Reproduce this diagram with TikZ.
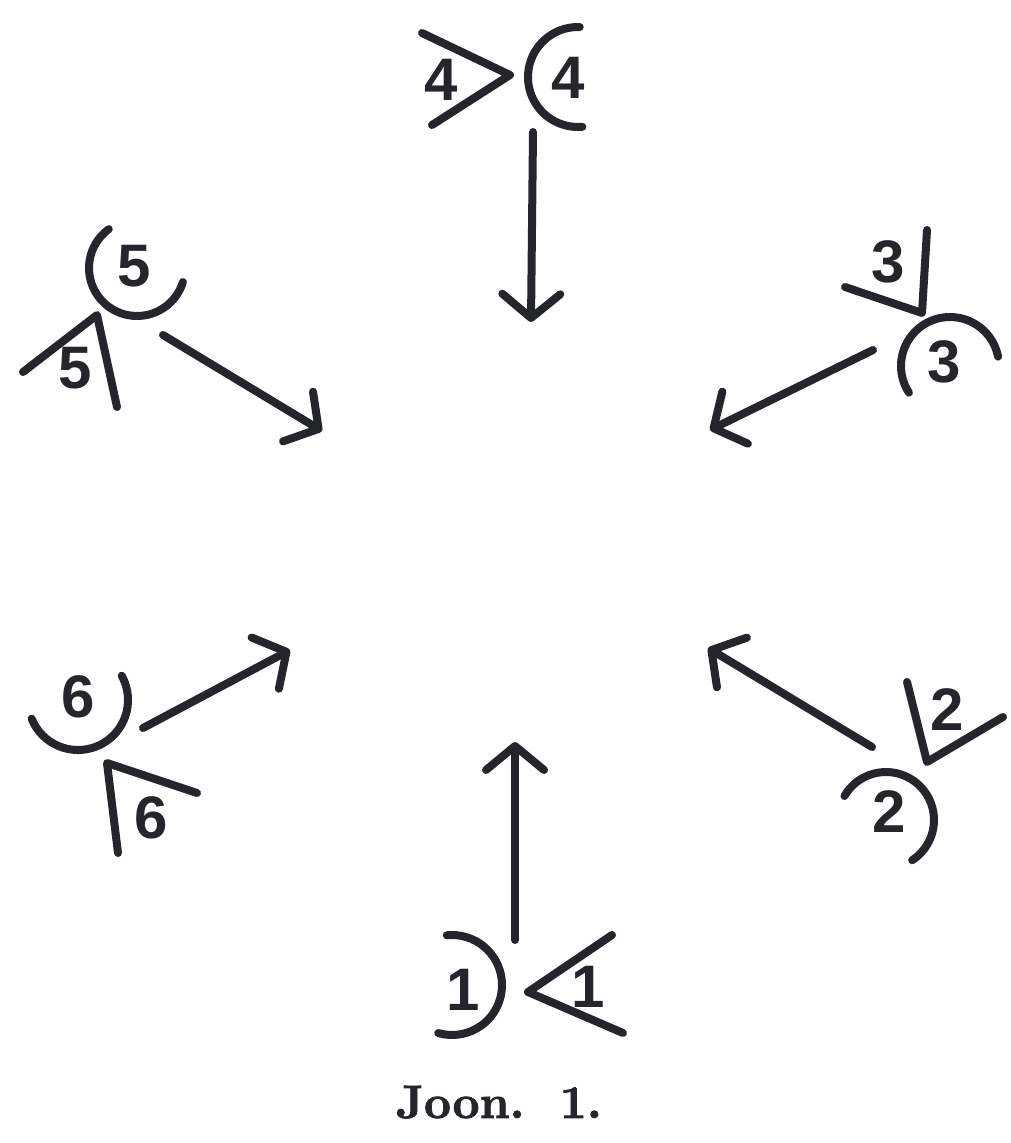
\documentclass[tikz,border=0pt]{standalone}
\usepackage{fontspec}
\newfontfamily\digitfont{Liberation Sans}
\newfontfamily\capfont{lmroman10-bold.otf}[FakeBold=1.6]
\usetikzlibrary{arrows.meta}
\definecolor{ink}{RGB}{36,38,44}
\begin{document}
\begin{tikzpicture}[x=1pt,y=-1pt,
  stroke/.style={draw=ink,line width=8pt,line cap=round,line join=round},
  arrowline/.style={stroke,-{Straight Barb[length=24pt,width=58pt,round]}},
  digit/.style={text=ink,font=\digitfont\bfseries\fontsize{60}{60}\selectfont,inner sep=0pt},
  captiontext/.style={text=ink,font=\capfont\fontsize{47}{47}\selectfont,inner sep=0pt,anchor=base}]
\fill[white] (0,0) rectangle (1011,1143);
\useasboundingbox (0,0) rectangle (1011,1143);

% arc centres
\coordinate (c4) at (578,77);
\coordinate (c5) at (137,268);
\coordinate (c3) at (950,366);
\coordinate (c6) at (78,700);
\coordinate (c2) at (886,820);
\coordinate (c1) at (452,985);

% arcs
\draw[stroke] (c4) ++(272:50) arc[start angle=272,end angle=85,radius=50];
\draw[stroke] (c5) ++(234:48) arc[start angle=234,end angle=17,radius=48];
\draw[stroke] (c3) ++(147:49) arc[start angle=147,end angle=349,radius=49];
\draw[stroke] (c6) ++(158:50) arc[start angle=158,end angle=-29,radius=50];
\draw[stroke] (c2) ++(210:48) arc[start angle=210,end angle=417,radius=48];
\draw[stroke] (c1) ++(-96:50) arc[start angle=-96,end angle=106,radius=50];

% angle marks
\coordinate (v4a) at (422,33);  \coordinate (v4) at (510,75);  \coordinate (v4b) at (432,125);
\coordinate (v5a) at (23,372);  \coordinate (v5) at (97,315);  \coordinate (v5b) at (117,407);
\coordinate (v3a) at (927,230); \coordinate (v3) at (922,313); \coordinate (v3b) at (845,287);
\coordinate (v6a) at (197,793); \coordinate (v6) at (107,763); \coordinate (v6b) at (118,853);
\coordinate (v2a) at (907,682); \coordinate (v2) at (927,762); \coordinate (v2b) at (1003,717);
\coordinate (v1a) at (612,935); \coordinate (v1) at (528,992); \coordinate (v1b) at (623,1033);
\draw[stroke] (v4a) -- (v4) -- (v4b);
\draw[stroke] (v5a) -- (v5) -- (v5b);
\draw[stroke] (v3a) -- (v3) -- (v3b);
\draw[stroke] (v6a) -- (v6) -- (v6b);
\draw[stroke] (v2a) -- (v2) -- (v2b);
\draw[stroke] (v1a) -- (v1) -- (v1b);

% digits
\node[digit] (d4v) at (441,80) {4};
\node[digit] (d4c) at (568,78) {4};
\node[digit] (d5c) at (134,266) {5};
\node[digit] (d5v) at (75,368) {5};
\node[digit] (d3v) at (888,262) {3};
\node[digit] (d3c) at (944,362) {3};
\node[digit] (d6c) at (78,697) {6};
\node[digit] (d6v) at (151,818) {6};
\node[digit] (d2v) at (947,710) {2};
\node[digit] (d2c) at (889,812) {2};
\node[digit] (d1c) at (463,990) {1};
\node[digit] (d1v) at (588,987) {1};

% arrows
\coordinate (s4) at (533,132); \coordinate (e4) at (531,322);
\coordinate (s5) at (163,335); \coordinate (e5) at (322,431);
\coordinate (s3) at (873,350); \coordinate (e3) at (710,430);
\coordinate (s6) at (143,728); \coordinate (e6) at (290,650);
\coordinate (s2) at (872,747); \coordinate (e2) at (708,648);
\coordinate (s1) at (515,940); \coordinate (e1) at (515,742);
\draw[arrowline] (s4) -- (e4);
\draw[arrowline] (s5) -- (e5);
\draw[arrowline] (s3) -- (e3);
\draw[arrowline] (s6) -- (e6);
\draw[arrowline] (s2) -- (e2);
\draw[arrowline] (s1) -- (e1);

% caption
\node[captiontext] (cap) at (499,1118) {Joon.\hspace{0.75em}1.};
\end{tikzpicture}
\end{document}
